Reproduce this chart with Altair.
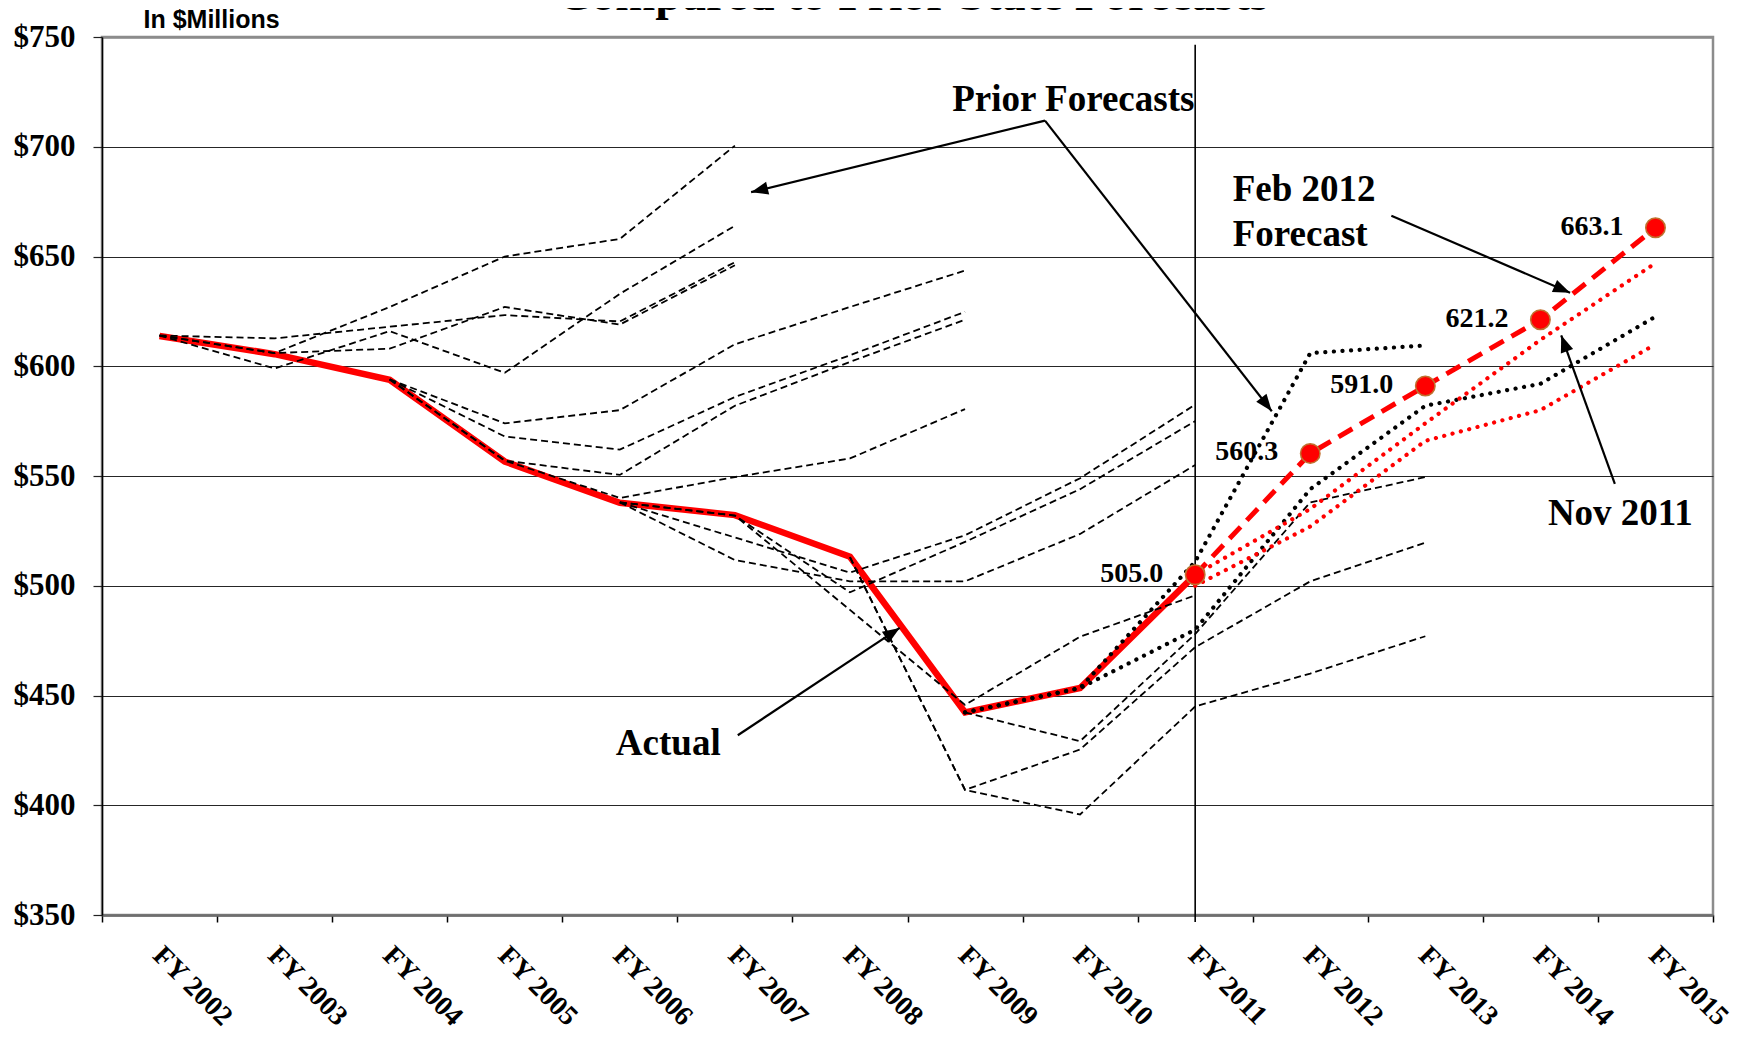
import math
import altair as alt
import pandas as pd

# ---------------- data ----------------
YEARS = ["FY 2002", "FY 2003", "FY 2004", "FY 2005", "FY 2006", "FY 2007", "FY 2008",
         "FY 2009", "FY 2010", "FY 2011", "FY 2012", "FY 2013", "FY 2014", "FY 2015"]

actual = [613.8, 605.5, 593.8, 556.6, 537.8, 532.2, 513.2, 442.3, 453.4, 505.0]   # FY2002-FY2011
feb_2012 = [505.0, 560.3, 591.0, 621.2, 663.1]                                      # FY2011-FY2015
nov_2011_high = [505.0, 535.0, 574.0, 612.0, 647.0]                                 # FY2011-FY2015
nov_2011_low = [500.0, 527.0, 566.0, 580.0, 610.0]                                  # FY2011-FY2015
recent_a = [442.3, 453.4, 511.0, 606.0, 609.5]                                      # FY2009-FY2013
recent_b = [442.3, 453.4, 480.0, 544.0, 582.0, 592.0, 622.6]                        # FY2009-FY2015

prior_1 = [614.0, 606.0, 627.0, 650.0, 658.0, 700.5]    # FY2002-FY2007
prior_2 = [614.0, 612.7, 618.0, 623.3, 620.4, 647.4]
prior_3 = [614.0, 606.0, 608.0, 627.0, 619.0, 646.0]
prior_4 = [614.0, 599.0, 616.0, 597.0, 633.0, 664.0]
prior_5 = [594.0, 574.0, 580.0, 610.0, 627.0, 643.6]    # FY2004-FY2009
prior_6 = [594.0, 568.0, 562.0, 586.0, 605.0, 624.8]
prior_7 = [594.0, 557.0, 550.5, 582.0, 602.0, 621.2]
prior_8 = [594.0, 557.0, 540.0, 549.5, 558.0, 580.5]
prior_9 = [538.0, 522.0, 506.0, 523.0, 549.0, 582.5]    # FY2006-FY2011
prior_10 = [538.0, 532.0, 497.0, 520.0, 544.0, 575.0]
prior_11 = [538.0, 511.7, 502.0, 502.0, 523.6, 555.0]
prior_12 = [538.0, 532.0, 489.0, 445.7, 476.8, 495.6]
prior_13 = [513.0, 407.0, 425.4, 472.0, 502.0, 519.6]   # FY2008-FY2013
prior_14 = [513.0, 407.0, 395.8, 445.0, 460.0, 477.0]
prior_15 = [442.3, 429.2, 478.0, 538.0, 549.5]          # FY2009-FY2013

prior_series = [prior_1, prior_2, prior_3, prior_4, prior_5, prior_6, prior_7, prior_8,
                prior_9, prior_10, prior_11, prior_12, prior_13, prior_14, prior_15]
prior_starts = ["FY 2002"] * 4 + ["FY 2004"] * 4 + ["FY 2006"] * 4 + ["FY 2008"] * 2 + ["FY 2009"]

divider_year = ["FY 2011"]
divider_top = [746.5]
divider_bottom = [346.8]

# annotations, x in category-index units (0..14), y in $ millions
arrow_x1 = [8.195, 8.195, 11.205, 13.147, 5.525]
arrow_y1 = [711.9, 711.9, 668.6, 546.4, 431.9]
arrow_x2 = [5.641, 10.166, 12.758, 12.681, 6.932]
arrow_y2 = [679.3, 579.5, 633.5, 614.1, 480.8]

note_text = ["Prior Forecasts", "Feb 2012", "Forecast", "Nov 2011", "Actual"]
note_x = [8.441, 9.826, 9.826, 13.195, 4.921]
note_y = [721.5, 680.3, 659.8, 532.7, 427.9]
note_align = ["center", "left", "left", "center", "center"]

chart_title = ["Compared to Prior State Forecasts"]

# ---------------- layout ----------------
W, H = 1611, 878
SERIF = "Liberation Serif"
RED = "#ff0000"


def rows(name, start, vals):
    i0 = YEARS.index(start)
    return [{"series": name, "year": YEARS[i0 + k], "value": v, "idx": k} for k, v in enumerate(vals)]


actual_df = pd.DataFrame(rows("actual", "FY 2002", actual))
feb_df = pd.DataFrame(rows("feb", "FY 2011", feb_2012))
nov_df = pd.DataFrame(rows("nov_hi", "FY 2011", nov_2011_high) + rows("nov_lo", "FY 2011", nov_2011_low))
recent_df = pd.DataFrame(rows("rec_a", "FY 2009", recent_a) + rows("rec_b", "FY 2009", recent_b))
prior_rows = []
for n, (s, vals) in enumerate(zip(prior_starts, prior_series)):
    prior_rows += rows(f"prior_{n+1}", s, vals)
prior_df = pd.DataFrame(prior_rows)
divider_df = pd.DataFrame({"year": divider_year, "value": divider_top, "value2": divider_bottom})

px_x = W / 14.0
px_y = H / 400.0
angles = []
for x1, y1, x2, y2 in zip(arrow_x1, arrow_y1, arrow_x2, arrow_y2):
    dxp = (x2 - x1) * px_x
    dyp = -(y2 - y1) * px_y
    angles.append(math.degrees(math.atan2(dxp, -dyp)) % 360)
arrow_df = pd.DataFrame({"xi": arrow_x1, "value": arrow_y1, "xi2": arrow_x2, "value2": arrow_y2})
head_df = pd.DataFrame({"xi": arrow_x2, "value": arrow_y2, "ang": angles})
note_df = pd.DataFrame({"txt": note_text, "xi": note_x, "value": note_y, "al": note_align})
title_df = pd.DataFrame({"txt": chart_title})

# ---------------- scales / axes ----------------
xscale = alt.Scale(type="band", domain=YEARS, paddingInner=0, paddingOuter=0)
xaxis = alt.Axis(
    title=None, tickBand="extent", ticks=True, tickSize=7, tickColor="#000000", tickWidth=1.5,
    domainColor="#6e6e6e", domainWidth=2.5, grid=False,
    labelAngle=45, labelAlign="left", labelBaseline="top",
    labelFont=SERIF, labelFontSize=28, labelFontWeight="bold", labelColor="#000000",
    labelPadding=19, labelOffset=7, labelOverlap=False,
)
yscale = alt.Scale(domain=[350, 750], nice=False, zero=False)
yaxis = alt.Axis(
    values=list(range(350, 751, 50)), labelExpr="'$' + datum.value",
    domainColor="#000000", domainWidth=1.5,
    ticks=True, tickSize=9, tickColor="#222222", tickWidth=1.2,
    grid=True,
    gridColor={"condition": {"test": "datum.value === 750 || datum.value === 350", "value": "#8c8c8c"},
               "value": "#262626"},
    gridWidth={"condition": {"test": "datum.value === 750 || datum.value === 350", "value": 2.5},
               "value": 1.2},
    labelFont=SERIF, labelFontSize=31, labelFontWeight="bold", labelColor="#000000",
    labelPadding=18, labelOverlap=False,
    title="In $Millions", titleAngle=0, titleAlign="left", titleBaseline="alphabetic",
    titleX=41, titleY=-10, titleFont="Liberation Sans", titleFontSize=25,
    titleFontWeight="bold", titleColor="#000000",
)

X = alt.X("year:N", bandPosition=0.5, scale=xscale, axis=xaxis)
Y = alt.Y("value:Q", scale=yscale, axis=yaxis)
ORDER = alt.Order("idx:Q")

divider = alt.Chart(divider_df).mark_rule(color="#000000", strokeWidth=1.6).encode(
    x=X, y=Y, y2=alt.Y2("value2:Q"))

actual_line = alt.Chart(actual_df).mark_line(color=RED, strokeWidth=6.5).encode(
    x=X, y=Y, order=ORDER)

prior_lines = alt.Chart(prior_df).mark_line(color="#000000", strokeWidth=1.8, strokeDash=[7, 4]).encode(
    x=X, y=Y, detail="series:N", order=ORDER)

recent_lines = alt.Chart(recent_df).mark_line(
    color="#000000", strokeWidth=4.2, strokeDash=[0.1, 8.5], strokeCap="round").encode(
    x=X, y=Y, detail="series:N", order=ORDER)

nov_lines = alt.Chart(nov_df).mark_line(
    color=RED, strokeWidth=4.2, strokeDash=[0.1, 8.5], strokeCap="round").encode(
    x=X, y=Y, detail="series:N", order=ORDER)

feb_line = alt.Chart(feb_df).mark_line(color=RED, strokeWidth=5, strokeDash=[16, 9]).encode(
    x=X, y=Y, order=ORDER)

feb_pts = alt.Chart(feb_df).mark_circle(
    color=RED, opacity=1, size=380, stroke="#c0712f", strokeWidth=1.5).encode(x=X, y=Y)

feb_labels = alt.Chart(feb_df).mark_text(
    font=SERIF, fontSize=28, fontWeight="bold", color="#000000",
    align="right", baseline="middle", dx=-32, dy=-1).encode(
    x=X, y=Y, text=alt.Text("value:Q", format=".1f"))

main = alt.layer(divider, actual_line, prior_lines, recent_lines, nov_lines,
                 feb_line, feb_pts, feb_labels)

XA = alt.X("xi:Q", scale=alt.Scale(domain=[0, 14], nice=False, zero=False), axis=None)

arrows = alt.Chart(arrow_df).mark_rule(color="#000000", strokeWidth=2.2).encode(
    x=XA, y=Y, x2=alt.X2("xi2:Q"), y2=alt.Y2("value2:Q"))

heads = alt.Chart(head_df).mark_point(
    shape="M0,0L-0.65,1.7L0.65,1.7Z", filled=True, color="#000000", opacity=1, size=400,
    strokeWidth=0).encode(x=XA, y=Y, angle=alt.Angle("ang:Q", scale=None))

notes_c = alt.Chart(note_df).transform_filter("datum.al === 'center'").mark_text(
    font=SERIF, fontSize=37, fontWeight="bold", color="#000000", align="center",
    baseline="middle").encode(x=XA, y=Y, text="txt:N")
notes_l = alt.Chart(note_df).transform_filter("datum.al === 'left'").mark_text(
    font=SERIF, fontSize=37, fontWeight="bold", color="#000000", align="left",
    baseline="middle").encode(x=XA, y=Y, text="txt:N")

# chart title: sits above the frame, mostly cut off by the page top as in the original
title_mark = alt.Chart(title_df).mark_text(
    font=SERIF, fontSize=48, fontWeight="bold", color="#000000", align="center",
    baseline="alphabetic").encode(x=alt.value(W / 2 + 5), y=alt.value(-27), text="txt:N")

annot = alt.layer(arrows, heads, notes_c, notes_l, title_mark)

chart = alt.layer(main, annot).resolve_scale(x="independent").properties(
    width=W, height=H,
    autosize=alt.AutoSizeParams(type="none"),
    padding={"left": 94, "top": 29, "right": 31, "bottom": 116},
).configure_view(stroke="#8c8c8c", strokeWidth=2.5)

chart.save("out.html", embed_options={"renderer": "svg", "actions": False})
